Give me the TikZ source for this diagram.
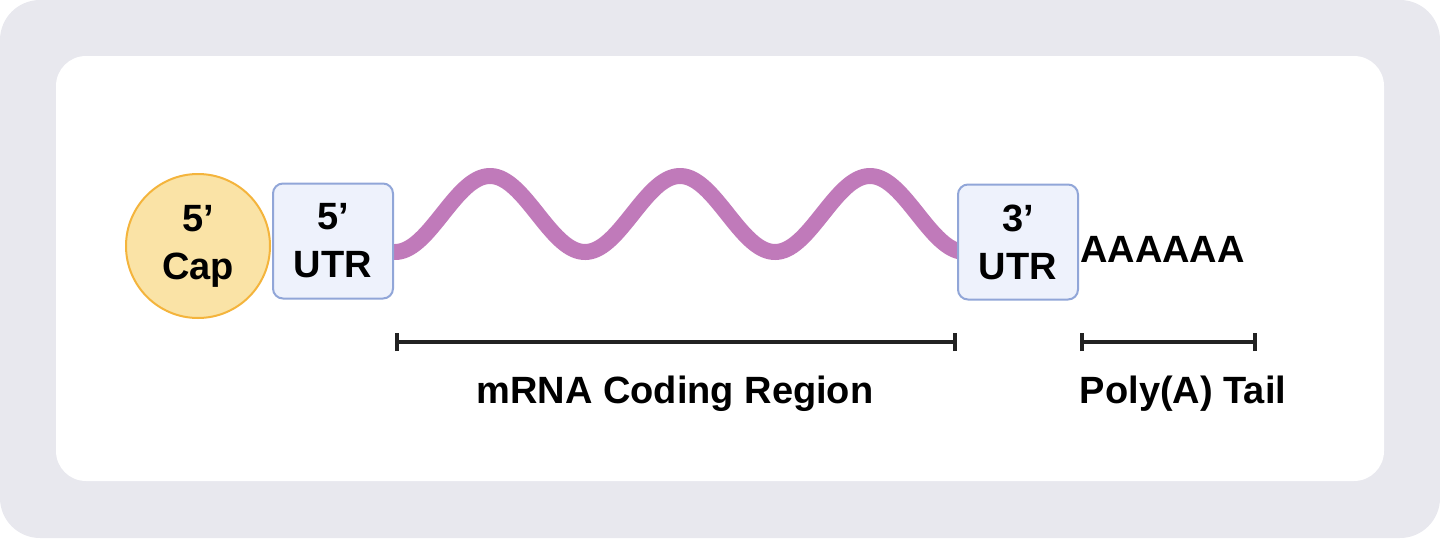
\documentclass[tikz,border=0pt]{standalone}
\usepackage{fontspec}
\setmainfont{Liberation Sans}
\begin{document}
\begin{tikzpicture}[x=1pt,y=-1pt,
  lbl/.style={font=\fontsize{38}{48}\selectfont\bfseries, align=center, inner sep=0},
  utr/.style={draw=utrline, fill=utrfill, line width=2, rounded corners=10, minimum width=120, minimum height=115, lbl},
  brk/.style={draw=barcol, line width=4}]
\definecolor{bg}{HTML}{E8E8EE}
\definecolor{capfill}{HTML}{FAE3A6}
\definecolor{capline}{HTML}{F4B43C}
\definecolor{utrfill}{HTML}{EEF2FC}
\definecolor{utrline}{HTML}{91A6D8}
\definecolor{wave}{HTML}{C07ABA}
\definecolor{barcol}{HTML}{222222}
\useasboundingbox (0,0) rectangle (1440,538);
\fill[bg, rounded corners=40] (0,0) rectangle (1440,538);
\fill[white, rounded corners=30] (56,56) rectangle (1384,481);
\draw[wave, line width=16, line cap=round, domain=0:565, samples=200, smooth] plot ({\x+395}, {214+38*cos(1.894737*\x)});
\node[circle, draw=capline, fill=capfill, line width=2, minimum size=144, lbl] (cap) at (198,246) {5'\\Cap};
\node[utr] (u5) at (333,241) {5'\\UTR};
\node[utr] (u3) at (1018,242) {3'\\UTR};
\node[lbl, anchor=west] (aa) at (1080,249) {AAAAAA};
\coordinate (c1) at (397,342); \coordinate (c2) at (955,342);
\coordinate (p1) at (1082,342); \coordinate (p2) at (1255,342);
\draw[brk] (c1) -- (c2);
\draw[brk] ([yshift=-9]c1) -- ([yshift=9]c1);
\draw[brk] ([yshift=-9]c2) -- ([yshift=9]c2);
\draw[brk] (p1) -- (p2);
\draw[brk] ([yshift=-9]p1) -- ([yshift=9]p1);
\draw[brk] ([yshift=-9]p2) -- ([yshift=9]p2);
\node[lbl] (cr) at (675,394) {mRNA Coding Region};
\node[lbl] (pt) at (1183,394) {Poly(A) Tail};
\end{tikzpicture}
\end{document}
